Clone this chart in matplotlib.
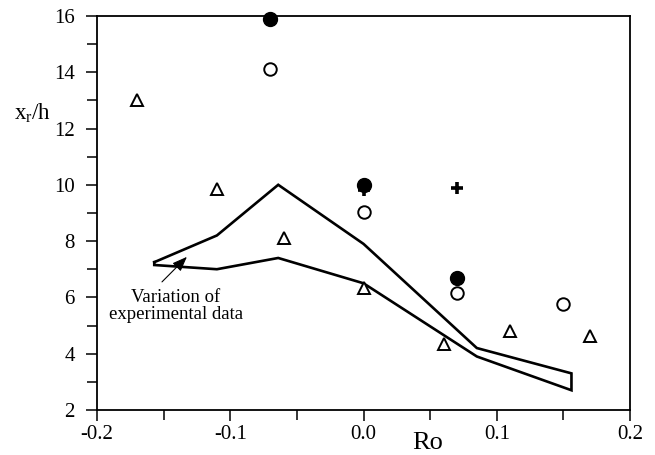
import matplotlib
matplotlib.use('Agg')
import matplotlib.pyplot as plt
from matplotlib.ticker import MultipleLocator

# data
ro_filled = [-0.07, 0.0, 0.07]
xr_filled = [15.9, 10.0, 6.7]

ro_open = [-0.07, 0.0, 0.07, 0.15]
xr_open = [14.1, 9.05, 6.15, 5.75]

ro_plus = [0.0, 0.07]
xr_plus = [9.8, 9.9]

ro_tri = [-0.17, -0.11, -0.06, 0.0, 0.06, 0.11, 0.17]
xr_tri = [13.0, 9.85, 8.1, 6.35, 4.35, 4.8, 4.62]

# envelope of experimental data (upper edge then lower edge back)
ro_upper = [-0.157, -0.11, -0.064, 0.0, 0.085, 0.156]
xr_upper = [7.25, 8.2, 10.0, 7.9, 4.2, 3.3]
ro_lower = [0.156, 0.085, 0.0, -0.064, -0.11, -0.157]
xr_lower = [2.7, 3.9, 6.5, 7.4, 7.0, 7.15]

xticks = [-0.2, -0.1, 0.0, 0.1, 0.2]
xtick_labels = ['-0.2', '-0.1', '0.0', '0.1', '0.2']

plt.rcParams['font.family'] = ['Liberation Serif', 'DejaVu Serif']
plt.rcParams['mathtext.fontset'] = 'custom'
plt.rcParams['mathtext.rm'] = 'Liberation Serif'

fig = plt.figure(figsize=(6.55, 4.55), dpi=100)
ax = fig.add_axes([0.148, 0.099, 0.814, 0.866])

ax.plot(ro_upper + ro_lower + [ro_upper[0]], xr_upper + xr_lower + [xr_upper[0]],
        color='black', lw=1.9, solid_joinstyle='miter')

ax.plot(ro_plus, xr_plus, linestyle='none', marker='+', ms=9, mew=2.6, color='black')
ax.plot(ro_filled, xr_filled, linestyle='none', marker='o', ms=10, color='black', clip_on=False)
ax.plot(ro_open, xr_open, linestyle='none', marker='o', ms=9, mfc='white', mec='black', mew=1.4)
ax.plot(ro_tri, xr_tri, linestyle='none', marker='^', ms=9, mfc='white', mec='black', mew=1.4)

# note with arrow
ax.text(-0.1407, 6.3, 'Variation of\nexperimental data', ha='center', va='top',
        fontsize=13.5, linespacing=1.0)
ax.annotate('', xy=(-0.1325, 7.44), xytext=(-0.1512, 6.55),
            arrowprops=dict(arrowstyle='-|>,head_length=0.9,head_width=0.35', color='black',
                            lw=0.8, shrinkA=0, shrinkB=0))

ax.set_xlim(-0.2, 0.2)
ax.set_ylim(2, 16)
ax.set_xticks(xticks)
ax.set_xticklabels(xtick_labels)
ax.xaxis.set_minor_locator(MultipleLocator(0.05))
ax.yaxis.set_major_locator(MultipleLocator(2))
ax.yaxis.set_minor_locator(MultipleLocator(1))
ax.tick_params(which='major', direction='out', length=8, width=1.1, labelsize=15)
ax.tick_params(which='minor', direction='out', length=7, width=1.1)
ax.tick_params(axis='x', pad=3)
ax.tick_params(axis='y', pad=8)
for s in ax.spines.values():
    s.set_linewidth(1.3)

ax.set_xlabel('Ro', fontsize=19)
ax.xaxis.set_label_coords(0.62, -0.055)
ax.text(-0.12, 0.736, r'$\mathregular{x_r}$/h', transform=ax.transAxes,
        ha='center', va='baseline', fontsize=16.5)

fig.savefig('out.png', dpi=100)
